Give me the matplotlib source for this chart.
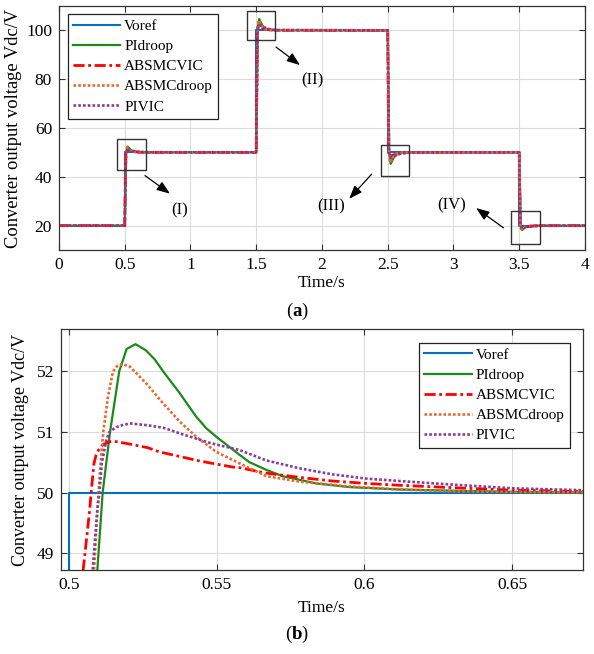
import matplotlib
matplotlib.use("Agg")
import matplotlib.pyplot as plt
from matplotlib.patches import Rectangle

plt.rcParams["font.family"] = ["Liberation Serif", "DejaVu Serif"]
plt.rcParams["mathtext.fontset"] = "custom"
plt.rcParams["mathtext.rm"] = "Liberation Serif"
plt.rcParams["mathtext.bf"] = "Liberation Serif:bold"

# ---- panel (a): full run, 0..4 s ----
A_VOREF_T = [0, 0.5, 0.5, 1.5, 1.5, 2.5, 2.5, 3.5, 3.5, 4.0]
A_VOREF_V = [20, 20, 50, 50, 100, 100, 50, 50, 20, 20]

A_PIDROOP_T = [0, 0.5, 0.511, 0.522, 0.545, 0.57, 0.62,
               1.5, 1.511, 1.522, 1.545, 1.57, 1.62,
               2.5, 2.511, 2.522, 2.545, 2.57, 2.62,
               3.5, 3.511, 3.522, 3.545, 3.57, 3.62, 4.0]
A_PIDROOP_V = [20, 20, 50, 52.4, 51.1, 50.3, 50.05,
               50, 100, 104.7, 102.2, 100.6, 100.1,
               100, 50, 45.3, 47.8, 49.4, 49.9,
               50, 20, 18.2, 19.2, 19.75, 19.95, 20]

A_ABSMCVIC_T = [0, 0.5, 0.507, 0.514, 0.545, 0.6, 0.67,
                1.5, 1.507, 1.514, 1.545, 1.6, 1.67,
                2.5, 2.507, 2.514, 2.545, 2.6, 2.67,
                3.5, 3.507, 3.514, 3.545, 3.6, 3.67, 4.0]
A_ABSMCVIC_V = [20, 20, 50, 50.85, 50.5, 50.15, 50.02,
                50, 100, 101.7, 101.0, 100.3, 100.05,
                100, 50, 48.3, 49.0, 49.7, 49.95,
                50, 20, 19.0, 19.4, 19.8, 19.98, 20]

A_ABSMCDROOP_T = [0, 0.5, 0.51, 0.517, 0.54, 0.567, 0.61,
                  1.5, 1.51, 1.517, 1.54, 1.567, 1.61,
                  2.5, 2.51, 2.517, 2.54, 2.567, 2.61,
                  3.5, 3.51, 3.517, 3.54, 3.567, 3.61, 4.0]
A_ABSMCDROOP_V = [20, 20, 50, 52.1, 51.0, 50.27, 50.05,
                  50, 100, 104.2, 102.0, 100.5, 100.1,
                  100, 50, 45.8, 48.0, 49.5, 49.9,
                  50, 20, 18.5, 19.4, 19.8, 19.97, 20]

A_PIVIC_T = [0, 0.5, 0.51, 0.521, 0.555, 0.6, 0.65,
             1.5, 1.51, 1.521, 1.555, 1.6, 1.65,
             2.5, 2.51, 2.521, 2.555, 2.6, 2.65,
             3.5, 3.51, 3.521, 3.555, 3.6, 3.65, 4.0]
A_PIVIC_V = [20, 20, 50, 51.14, 50.7, 50.25, 50.07,
             50, 100, 102.3, 101.4, 100.5, 100.15,
             100, 50, 47.7, 48.6, 49.5, 49.85,
             50, 20, 19.3, 19.6, 19.85, 19.95, 20]

# ---- panel (b): zoom on the 0.5 s step ----
B_VOREF_T = [0.49, 0.5, 0.5, 0.68]
B_VOREF_V = [20, 20, 50, 50]

B_PIDROOP_T = [0.5, 0.506, 0.5096, 0.5114, 0.5139, 0.5170, 0.5195, 0.5225,
               0.5260, 0.5290, 0.5319, 0.5350, 0.5375, 0.5431, 0.5465, 0.5499,
               0.5578, 0.5611, 0.5670, 0.5723, 0.5837, 0.5949, 0.6118, 0.63,
               0.65, 0.68]
B_PIDROOP_V = [20, 40, 48.72, 50.0, 51.0, 52.0, 52.37, 52.45,
               52.35, 52.2, 52.0, 51.80, 51.64, 51.25, 51.06, 50.92,
               50.62, 50.50, 50.37, 50.27, 50.15, 50.09, 50.05, 50.03,
               50.01, 50.0]

B_ABSMCVIC_T = [0.5, 0.503, 0.5048, 0.5070, 0.5075, 0.50845, 0.5092, 0.5100,
                0.5115, 0.5137, 0.5160, 0.5206, 0.5267, 0.5307, 0.5443,
                0.5476, 0.5555, 0.5578, 0.5668, 0.578, 0.5892, 0.6006,
                0.6118, 0.63, 0.65, 0.68]
B_ABSMCVIC_V = [20, 42, 48.72, 49.71, 50.0, 50.48, 50.62, 50.70,
                50.79, 50.84, 50.84, 50.80, 50.74, 50.67, 50.52,
                50.49, 50.42, 50.41, 50.32, 50.25, 50.19, 50.15,
                50.12, 50.08, 50.04, 50.01]

B_ABSMCDROOP_T = [0.5, 0.505, 0.5085, 0.5096, 0.5100, 0.5107, 0.5116, 0.5132,
                  0.5149, 0.5165, 0.5182, 0.5206, 0.5262, 0.5319, 0.5375,
                  0.5431, 0.5499, 0.5578, 0.5668, 0.578, 0.5949, 0.6118,
                  0.63, 0.65, 0.68]
B_ABSMCDROOP_V = [20, 42, 48.72, 49.71, 50.0, 50.48, 51.0, 51.58,
                  52.0, 52.1, 52.12, 52.08, 51.80, 51.47, 51.17,
                  50.92, 50.67, 50.48, 50.27, 50.18, 50.10, 50.05,
                  50.02, 50.01, 50.0]

B_PIVIC_T = [0.5, 0.505, 0.5080, 0.5096, 0.5103, 0.5111, 0.5126, 0.5137,
             0.5160, 0.5185, 0.5210, 0.5267, 0.5319, 0.5398, 0.5431,
             0.5476, 0.5578, 0.5668, 0.578, 0.5892, 0.6006, 0.6118,
             0.63, 0.65, 0.68]
B_PIVIC_V = [20, 42, 48.72, 49.71, 50.0, 50.48, 50.86, 51.0,
             51.08, 51.12, 51.14, 51.11, 51.07, 50.94, 50.89,
             50.82, 50.70, 50.53, 50.40, 50.30, 50.23, 50.19,
             50.13, 50.07, 50.03]

LABELS = ["Voref", "PIdroop", "ABSMCVIC", "ABSMCdroop", "PIVIC"]

STYLES = [
    dict(color="#0072BD", lw=1.5, ls="-"),
    dict(color="#1b8a1b", lw=1.6, ls="-"),
    dict(color="#ff0000", lw=2.0, ls=(0, (4, 1.3, 1, 1.3))),
    dict(color="#e8682f", lw=1.9, ls=(0, (1, 0.8))),
    dict(color="#8a3a9a", lw=1.9, ls=(0, (1, 0.8))),
]

TICK_FS = 12.5
LABEL_FS = 12.5
LEG_FS = 11


def _style_axes(ax):
    ax.grid(True, color="#dcdcdc", lw=0.8)
    ax.set_axisbelow(True)
    ax.tick_params(direction="in", top=True, right=True, labelsize=TICK_FS,
                   length=4, width=0.8, color="#333333", pad=5)
    for s in ax.spines.values():
        s.set_color("#333333")
        s.set_linewidth(0.9)


def _legend(ax, anchor):
    leg = ax.legend(loc="upper left", bbox_to_anchor=anchor, fontsize=LEG_FS,
                    frameon=True, fancybox=False, framealpha=1,
                    edgecolor="#222222", borderaxespad=0, borderpad=0.35,
                    labelspacing=0.42, handlelength=3.1, handletextpad=0.25)
    leg.get_frame().set_linewidth(0.9)


fig = plt.figure(figsize=(5.94, 6.54), dpi=100, facecolor="white")

# ---------- (a) ----------
ax = fig.add_axes([0.0993, 0.6177, 0.8855, 0.3731])
series_a = [(A_VOREF_T, A_VOREF_V), (A_PIDROOP_T, A_PIDROOP_V),
            (A_ABSMCVIC_T, A_ABSMCVIC_V), (A_ABSMCDROOP_T, A_ABSMCDROOP_V),
            (A_PIVIC_T, A_PIVIC_V)]
for (t, v), lab, st in zip(series_a, LABELS, STYLES):
    ax.plot(t, v, label=lab, **st)
ax.set_xlim(0, 4)
ax.set_ylim(10, 110)
ax.set_xticks([0, 0.5, 1, 1.5, 2, 2.5, 3, 3.5, 4])
ax.set_xticklabels(["0", "0.5", "1", "1.5", "2", "2.5", "3", "3.5", "4"])
ax.set_yticks([20, 40, 60, 80, 100])
_style_axes(ax)
ax.set_xlabel("Time/s", fontsize=LABEL_FS)
ax.xaxis.set_label_coords(0.5, -0.102)
ax.set_ylabel("Converter output voltage Vdc/V", fontsize=13.3)
ax.yaxis.set_label_coords(-0.071, 0.5)
_legend(ax, (0.0165, 0.967))

# zoom boxes and arrows
boxes = [(0.441, 42.7, 0.221, 13.0), (1.427, 95.9, 0.218, 12.1),
         (2.446, 40.2, 0.216, 12.7), (3.437, 12.3, 0.221, 13.8)]
for x0, y0, w, h in boxes:
    ax.add_patch(Rectangle((x0, y0), w, h, fill=False, ec="#333333", lw=1.0, zorder=5))

arrows = [((0.654, 40.5), (0.844, 33.1)), ((1.650, 93.2), (1.833, 85.8)),
          ((2.378, 41.1), (2.207, 31.0)), ((3.380, 19.1), (3.172, 27.2))]
for start, end in arrows:
    ax.annotate("", xy=end, xytext=start,
                arrowprops=dict(arrowstyle="-|>,head_length=0.8,head_width=0.3",
                                color="black", lw=0.9, shrinkA=0, shrinkB=0))

for txt, x, y in [("(I)", 0.915, 26.2), ("(II)", 1.929, 79.7),
                  ("(III)", 2.073, 28.0), ("(IV)", 2.986, 28.3)]:
    ax.text(x, y, txt, fontsize=12, ha="center", va="center")

fig.text(0.5, 1 - 311 / 654, r"($\mathbf{a}$)", ha="center", va="center", fontsize=13.5)

# ---------- (b) ----------
bx = fig.add_axes([0.1027, 0.1284, 0.8788, 0.3685])
series_b = [(B_VOREF_T, B_VOREF_V), (B_PIDROOP_T, B_PIDROOP_V),
            (B_ABSMCVIC_T, B_ABSMCVIC_V), (B_ABSMCDROOP_T, B_ABSMCDROOP_V),
            (B_PIVIC_T, B_PIVIC_V)]
for (t, v), lab, st in zip(series_b, LABELS, STYLES):
    bx.plot(t, v, label=lab, **st)
bx.set_xlim(0.4973, 0.674)
bx.set_ylim(48.72, 52.7)
bx.set_xticks([0.5, 0.55, 0.6, 0.65])
bx.set_xticklabels(["0.5", "0.55", "0.6", "0.65"])
bx.set_yticks([49, 50, 51, 52])
_style_axes(bx)
bx.set_xlabel("Time/s", fontsize=LABEL_FS)
bx.xaxis.set_label_coords(0.5, -0.125)
bx.set_ylabel("Converter output voltage Vdc/V", fontsize=13)
bx.yaxis.set_label_coords(-0.061, 0.5)
_legend(bx, (0.686, 0.943))

fig.text(0.5, 1 - 634 / 654, r"($\mathbf{b}$)", ha="center", va="center", fontsize=13.5)

fig.savefig("out.png", dpi=100, facecolor="white")
